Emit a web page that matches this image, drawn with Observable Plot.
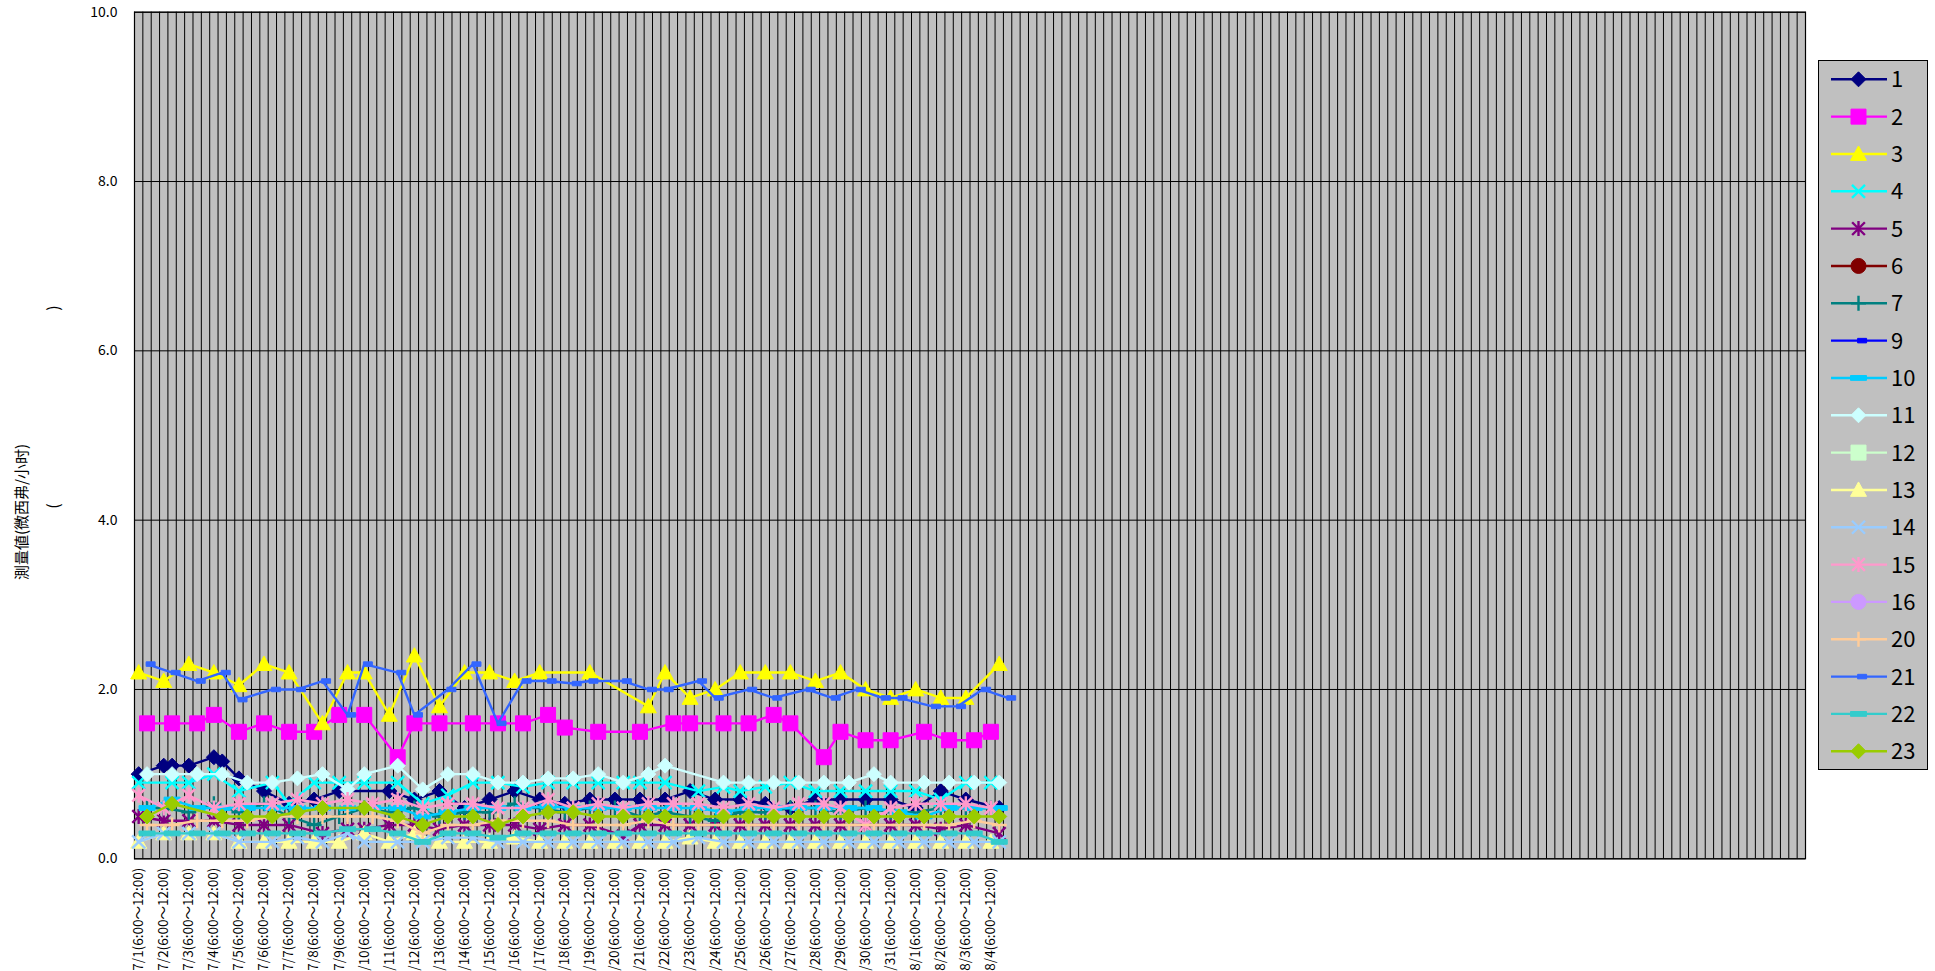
<!DOCTYPE html>
<html>
<head>
<meta charset="utf-8">
<script src="https://cdn.jsdelivr.net/npm/d3@7"></script>
<script src="https://cdn.jsdelivr.net/npm/@observablehq/plot@0.6"></script>
<style>
  html, body { margin: 0; padding: 0; background: #fff; overflow: hidden; }
  #wrap { position: relative; width: 1935px; height: 971px; overflow: hidden; }
  #chart { position: absolute; left: 0; top: 0; }
  #legend { position: absolute; left: 1818px; top: 60px; }
  #ytitle { position: absolute; left: 0; top: 0; }
  text { font-family: "Noto Sans CJK JP", "Noto Sans", sans-serif; }
</style>
</head>
<body>
<div id="wrap">
  <div id="chart"></div>
  <svg id="ytitle" width="80" height="971"></svg>
  <svg id="legend" width="112" height="712"></svg>
</div>
<script>
// ---------------- DATA ----------------
const yTicks = [0, 2, 4, 6, 8, 10];
const categoryCount = 200;            // category slots on the x axis (most empty)
const tickLabels = [
  "7/1(6:00～12:00)","7/2(6:00～12:00)","7/3(6:00～12:00)","7/4(6:00～12:00)","7/5(6:00～12:00)",
  "7/6(6:00～12:00)","7/7(6:00～12:00)","7/8(6:00～12:00)","7/9(6:00～12:00)","7/10(6:00～12:00)",
  "7/11(6:00～12:00)","7/12(6:00～12:00)","7/13(6:00～12:00)","7/14(6:00～12:00)","7/15(6:00～12:00)",
  "7/16(6:00～12:00)","7/17(6:00～12:00)","7/18(6:00～12:00)","7/19(6:00～12:00)","7/20(6:00～12:00)",
  "7/21(6:00～12:00)","7/22(6:00～12:00)","7/23(6:00～12:00)","7/24(6:00～12:00)","7/25(6:00～12:00)",
  "7/26(6:00～12:00)","7/27(6:00～12:00)","7/28(6:00～12:00)","7/29(6:00～12:00)","7/30(6:00～12:00)",
  "7/31(6:00～12:00)","8/1(6:00～12:00)","8/2(6:00～12:00)","8/3(6:00～12:00)","8/4(6:00～12:00)"
];
const tickCategories = [0,3,6,9,12,15,18,21,24,27,30,33,36,39,42,45,48,51,54,57,60,63,66,69,72,75,78,81,84,87,90,93,96,99,102];

// each point: [category slot, value]
const s1 = [[0,1.0],[3,1.1],[4,1.1],[6,1.1],[9,1.2],[10,1.15],[12,0.95],[15,0.8],[18,0.65],[21,0.7],[24,0.8],[30,0.8],[33,0.7],[36,0.8],[39,0.6],[42,0.7],[45,0.8],[48,0.7],[51,0.65],[54,0.7],[57,0.7],[60,0.7],[63,0.7],[66,0.8],[69,0.7],[72,0.7],[75,0.65],[78,0.6],[81,0.7],[84,0.7],[87,0.7],[90,0.7],[93,0.6],[96,0.8],[99,0.7],[103,0.6]];
const s2 = [[1,1.6],[4,1.6],[7,1.6],[9,1.7],[12,1.5],[15,1.6],[18,1.5],[21,1.5],[24,1.7],[27,1.7],[31,1.2],[33,1.6],[36,1.6],[40,1.6],[43,1.6],[46,1.6],[49,1.7],[51,1.55],[55,1.5],[60,1.5],[64,1.6],[66,1.6],[70,1.6],[73,1.6],[76,1.7],[78,1.6],[82,1.2],[84,1.5],[87,1.4],[90,1.4],[94,1.5],[97,1.4],[100,1.4],[102,1.5]];
const s3 = [[0,2.2],[3,2.1],[6,2.3],[9,2.2],[12,2.05],[15,2.3],[18,2.2],[22,1.6],[25,2.2],[27,2.2],[30,1.7],[33,2.4],[36,1.8],[39,2.2],[42,2.2],[45,2.1],[48,2.2],[54,2.2],[61,1.8],[63,2.2],[66,1.9],[69,2.0],[72,2.2],[75,2.2],[78,2.2],[81,2.1],[84,2.2],[87,2.0],[90,1.9],[93,2.0],[96,1.9],[99,1.9],[103,2.3]];
const s4 = [[0,0.9],[4,0.9],[6,0.9],[9,1.0],[12,0.8],[16,0.9],[18,0.65],[21,0.9],[24,0.9],[27,0.9],[31,0.9],[34,0.65],[37,0.75],[40,0.9],[43,0.9],[46,0.85],[49,0.9],[52,0.9],[55,0.9],[58,0.9],[60,0.9],[63,0.9],[67,0.8],[70,0.85],[72,0.8],[75,0.85],[78,0.9],[81,0.8],[84,0.8],[87,0.8],[90,0.8],[93,0.8],[96,0.7],[99,0.9],[102,0.9]];
const s5 = [[0,0.5],[3,0.45],[6,0.45],[9,0.45],[12,0.4],[15,0.4],[18,0.4],[22,0.3],[25,0.35],[27,0.35],[30,0.4],[33,0.4],[36,0.35],[39,0.4],[42,0.4],[45,0.4],[48,0.35],[51,0.4],[54,0.4],[58,0.27],[60,0.4],[63,0.4],[66,0.4],[69,0.4],[72,0.4],[75,0.4],[78,0.4],[81,0.4],[84,0.4],[87,0.4],[90,0.4],[93,0.4],[96,0.35],[99,0.4],[103,0.3]];
const s6 = [];
const s7 = [[1,0.6],[3,0.6],[6,0.55],[9,0.65],[12,0.55],[15,0.65],[18,0.5],[21,0.4],[24,0.5],[27,0.6],[30,0.55],[33,0.6],[36,0.5],[39,0.55],[42,0.55],[45,0.65],[48,0.6],[51,0.55],[54,0.6],[57,0.6],[60,0.5],[63,0.55],[66,0.5],[69,0.45],[72,0.55],[75,0.55],[78,0.6],[81,0.6],[84,0.55],[87,0.6],[90,0.55],[93,0.55],[96,0.6],[99,0.6],[102,0.6]];
const s9 = [];
const s10 = [[1,0.6],[4,0.7],[7,0.6],[10,0.6],[13,0.6],[16,0.6],[19,0.6],[22,0.6],[25,0.6],[28,0.6],[31,0.6],[34,0.5],[37,0.55],[40,0.6],[43,0.6],[46,0.6],[49,0.62],[52,0.6],[55,0.6],[58,0.6],[61,0.6],[64,0.6],[67,0.6],[70,0.55],[73,0.6],[76,0.6],[79,0.6],[82,0.6],[85,0.6],[88,0.6],[91,0.55],[94,0.5],[97,0.6],[100,0.6],[103,0.6]];
const s11 = [[1,1.0],[4,1.0],[7,1.0],[10,1.0],[13,0.9],[16,0.9],[19,0.95],[22,1.0],[25,0.82],[27,1.0],[31,1.1],[34,0.82],[37,1.0],[40,1.0],[43,0.9],[46,0.9],[49,0.95],[52,0.95],[55,1.0],[58,0.9],[61,1.0],[63,1.1],[70,0.9],[73,0.9],[76,0.9],[79,0.9],[82,0.9],[85,0.9],[88,1.0],[90,0.9],[94,0.9],[97,0.9],[100,0.9],[103,0.9]];
const s12 = [];
const s13 = [[0,0.2],[3,0.3],[6,0.3],[9,0.3],[12,0.2],[15,0.2],[18,0.2],[21,0.2],[24,0.2],[27,0.3],[30,0.2],[33,0.3],[36,0.2],[39,0.2],[42,0.2],[45,0.25],[48,0.2],[51,0.2],[54,0.2],[57,0.2],[60,0.2],[63,0.2],[66,0.25],[69,0.2],[72,0.2],[75,0.2],[78,0.2],[81,0.2],[84,0.2],[87,0.2],[90,0.2],[93,0.2],[96,0.2],[99,0.2],[102,0.2]];
const s14 = [[0,0.2],[3,0.3],[6,0.3],[9,0.3],[12,0.2],[16,0.2],[19,0.25],[22,0.2],[25,0.3],[27,0.2],[31,0.2],[34,0.2],[37,0.25],[40,0.25],[43,0.2],[46,0.2],[49,0.2],[52,0.2],[55,0.2],[58,0.2],[61,0.2],[64,0.2],[67,0.25],[70,0.2],[73,0.2],[76,0.2],[79,0.2],[82,0.2],[85,0.2],[88,0.2],[91,0.2],[94,0.2],[97,0.2],[100,0.2],[103,0.2]];
const s15 = [[0,0.75],[3,0.6],[6,0.75],[9,0.6],[12,0.65],[16,0.65],[19,0.7],[22,0.65],[25,0.7],[28,0.65],[31,0.7],[34,0.6],[37,0.65],[40,0.65],[43,0.6],[46,0.6],[49,0.7],[52,0.6],[55,0.65],[58,0.6],[61,0.65],[64,0.65],[67,0.65],[70,0.6],[73,0.65],[76,0.6],[79,0.65],[82,0.65],[84,0.6],[87,0.4],[90,0.6],[93,0.65],[96,0.65],[99,0.65],[102,0.6]];
const s16 = [];
const s20 = [[1,0.4],[4,0.4],[7,0.45],[10,0.45],[13,0.45],[16,0.5],[19,0.5],[22,0.5],[25,0.5],[28,0.5],[31,0.45],[34,0.3],[37,0.4],[40,0.4],[43,0.45],[46,0.45],[49,0.45],[52,0.4],[55,0.4],[58,0.4],[61,0.45],[64,0.4],[67,0.4],[70,0.4],[73,0.4],[76,0.4],[79,0.4],[82,0.4],[85,0.4],[88,0.4],[91,0.4],[94,0.4],[97,0.4],[100,0.45],[103,0.4]];
const s21 = [[1,2.3],[4,2.2],[7,2.1],[10,2.2],[12,1.88],[16,2.0],[19,2.0],[22,2.1],[25,1.7],[27,2.3],[31,2.2],[33,1.7],[37,2.0],[40,2.3],[43,1.6],[46,2.1],[49,2.1],[52,2.07],[54,2.1],[58,2.1],[61,2.0],[63,2.0],[67,2.1],[69,1.9],[73,2.0],[76,1.9],[80,2.0],[83,1.9],[86,2.0],[89,1.9],[91,1.9],[95,1.8],[98,1.8],[101,2.0],[104,1.9]];
const s22 = [[1,0.3],[4,0.3],[7,0.3],[10,0.3],[13,0.3],[16,0.3],[19,0.3],[22,0.3],[25,0.35],[28,0.35],[31,0.3],[34,0.2],[37,0.3],[40,0.3],[43,0.25],[46,0.3],[49,0.3],[52,0.3],[55,0.3],[58,0.3],[61,0.3],[64,0.3],[67,0.3],[70,0.3],[73,0.3],[76,0.3],[79,0.3],[82,0.3],[85,0.3],[88,0.3],[91,0.3],[94,0.3],[97,0.3],[100,0.3],[103,0.2]];
const s23 = [[1,0.5],[4,0.65],[10,0.5],[13,0.5],[16,0.5],[19,0.55],[22,0.6],[27,0.6],[31,0.5],[34,0.4],[37,0.5],[40,0.5],[43,0.4],[46,0.5],[49,0.55],[52,0.55],[55,0.5],[58,0.5],[61,0.5],[63,0.5],[67,0.5],[70,0.5],[73,0.5],[76,0.5],[79,0.5],[82,0.5],[85,0.5],[88,0.5],[91,0.5],[94,0.5],[97,0.5],[100,0.5],[103,0.5]];

const yTitle = "測量値(微西弗/小时)";

// ---------------- MARKER SHAPES ----------------
const rad = size => Math.sqrt(size / Math.PI);
const sym = {
  diamond: {draw(c, s) { const r = rad(s); c.moveTo(0, -r); c.lineTo(r, 0); c.lineTo(0, r); c.lineTo(-r, 0); c.closePath(); }},
  square:  {draw(c, s) { const r = rad(s); c.rect(-r, -r, 2 * r, 2 * r); }},
  triangle:{draw(c, s) { const r = rad(s); c.moveTo(0, -r); c.lineTo(r, r * 0.8); c.lineTo(-r, r * 0.8); c.closePath(); }},
  times:   {draw(c, s) { const r = rad(s); c.moveTo(-r, -r); c.lineTo(r, r); c.moveTo(r, -r); c.lineTo(-r, r); }},
  asterisk:{draw(c, s) { const r = rad(s); const a = r * 0.85; c.moveTo(-a, -a); c.lineTo(a, a); c.moveTo(a, -a); c.lineTo(-a, a); c.moveTo(0, -r); c.lineTo(0, r); }},
  circle:  {draw(c, s) { const r = rad(s); c.moveTo(r, 0); c.arc(0, 0, r, 0, 2 * Math.PI); }},
  plus:    {draw(c, s) { const r = rad(s); c.moveTo(-r, 0); c.lineTo(r, 0); c.moveTo(0, -r); c.lineTo(0, r); }},
  dashShort:{draw(c, s) { const r = rad(s); c.rect(-0.2 * r, -0.5 * r, 2 * r, r); }},
  dashLong: {draw(c, s) { const r = rad(s); c.rect(-r, -0.3 * r, 2 * r, 0.6 * r); }}
};

const series = [
  {name: "1",  data: s1,  color: "#000080", shape: "diamond",  r: 7.5, filled: true},
  {name: "2",  data: s2,  color: "#FF00FF", shape: "square",   r: 7.5, filled: true},
  {name: "3",  data: s3,  color: "#FFFF00", shape: "triangle", r: 8,   filled: true},
  {name: "4",  data: s4,  color: "#00FFFF", shape: "times",    r: 6.5, filled: false},
  {name: "5",  data: s5,  color: "#800080", shape: "asterisk", r: 7.5, filled: false},
  {name: "6",  data: s6,  color: "#800000", shape: "circle",   r: 7.5, filled: true},
  {name: "7",  data: s7,  color: "#008080", shape: "plus",     r: 7.5, filled: false},
  {name: "9",  data: s9,  color: "#0000FF", shape: "dashShort",r: 4.5, filled: true},
  {name: "10", data: s10, color: "#00CCFF", shape: "dashLong", r: 8,   filled: true},
  {name: "11", data: s11, color: "#CCFFFF", shape: "diamond",  r: 7.5, filled: true},
  {name: "12", data: s12, color: "#CCFFCC", shape: "square",   r: 7.5, filled: true},
  {name: "13", data: s13, color: "#FFFF99", shape: "triangle", r: 8,   filled: true},
  {name: "14", data: s14, color: "#99CCFF", shape: "times",    r: 6.5, filled: false},
  {name: "15", data: s15, color: "#FF99CC", shape: "asterisk", r: 7.5, filled: false},
  {name: "16", data: s16, color: "#CC99FF", shape: "circle",   r: 7.5, filled: true},
  {name: "20", data: s20, color: "#FFCC99", shape: "plus",     r: 7.5, filled: false},
  {name: "21", data: s21, color: "#3366FF", shape: "dashShort",r: 4.5, filled: true},
  {name: "22", data: s22, color: "#33CCCC", shape: "dashLong", r: 8,   filled: true},
  {name: "23", data: s23, color: "#99CC00", shape: "diamond",  r: 7.5, filled: true}
];

// ---------------- CHART ----------------
const seriesMarks = series.flatMap(s => s.data.length ? [
  Plot.line(s.data, {x: d => d[0] + 0.5, y: d => d[1], stroke: s.color, strokeWidth: 2.4, strokeLinejoin: "round"}),
  Plot.dot(s.data, {x: d => d[0] + 0.5, y: d => d[1], symbol: sym[s.shape], r: s.r,
    fill: s.filled ? s.color : "none", stroke: s.color, strokeWidth: s.filled ? 1 : 2.4})
] : []);

const chart = Plot.plot({
  width: 1935,
  height: 971,
  marginLeft: 134,
  marginRight: 130,
  marginTop: 11.7,
  marginBottom: 112.7,
  style: {background: "transparent", fontFamily: "'Noto Sans CJK JP', sans-serif"},
  x: {domain: [0, categoryCount], axis: null},
  y: {domain: [0, 10], axis: null},
  marks: [
    Plot.frame({fill: "#C0C0C0", stroke: null}),
    Plot.ruleX(d3.range(categoryCount + 1), {stroke: "#000", strokeWidth: 1}),
    Plot.ruleY(yTicks, {stroke: "#000", strokeWidth: 1}),
    Plot.frame({stroke: "#000", strokeWidth: 1.2}),
    Plot.axisY({ticks: yTicks, tickFormat: d => d.toFixed(1), tickSize: 0, tickPadding: 17, fontSize: 14, color: "#000"}),
    Plot.axisX({ticks: tickCategories.map(c => c + 0.5), tickFormat: d => tickLabels[tickCategories.indexOf(d - 0.5)],
      tickRotate: -90, tickSize: 0, tickPadding: 9, fontSize: 13.5, color: "#000"}),
    ...seriesMarks
  ]
});
document.getElementById("chart").appendChild(chart);

// ---------------- Y TITLE ----------------
const yt = d3.select("#ytitle");
yt.append("text")
  .attr("transform", "translate(27,512) rotate(-90)")
  .attr("text-anchor", "middle")
  .attr("font-size", 15)
  .attr("fill", "#000")
  .text(yTitle);
yt.append("text")
  .attr("transform", "translate(59,506) rotate(-90)")
  .attr("text-anchor", "middle")
  .attr("font-size", 16)
  .attr("fill", "#000")
  .text("(");
yt.append("text")
  .attr("transform", "translate(59,308) rotate(-90)")
  .attr("text-anchor", "middle")
  .attr("font-size", 16)
  .attr("fill", "#000")
  .text(")");

// ---------------- LEGEND ----------------
const lg = d3.select("#legend");
lg.append("rect").attr("x", 0.5).attr("y", 0.5).attr("width", 109).attr("height", 709)
  .attr("fill", "#C0C0C0").attr("stroke", "#000").attr("stroke-width", 1);
series.forEach((s, i) => {
  const cy = 19.3 + i * 37.33;
  const g = lg.append("g").attr("transform", `translate(0,${cy})`);
  g.append("line").attr("x1", 13).attr("x2", 69).attr("y1", 0).attr("y2", 0)
    .attr("stroke", s.color).attr("stroke-width", 2.4);
  g.append("path").attr("transform", "translate(40.5,0)")
    .attr("d", d3.symbol(sym[s.shape], Math.PI * s.r * s.r)())
    .attr("fill", s.filled ? s.color : "none").attr("stroke", s.color).attr("stroke-width", s.filled ? 1 : 2.4);
  g.append("text").attr("x", 73).attr("y", 0).attr("dy", "0.36em")
    .attr("font-size", 22).attr("fill", "#000").text(s.name);
});
</script>
</body>
</html>
